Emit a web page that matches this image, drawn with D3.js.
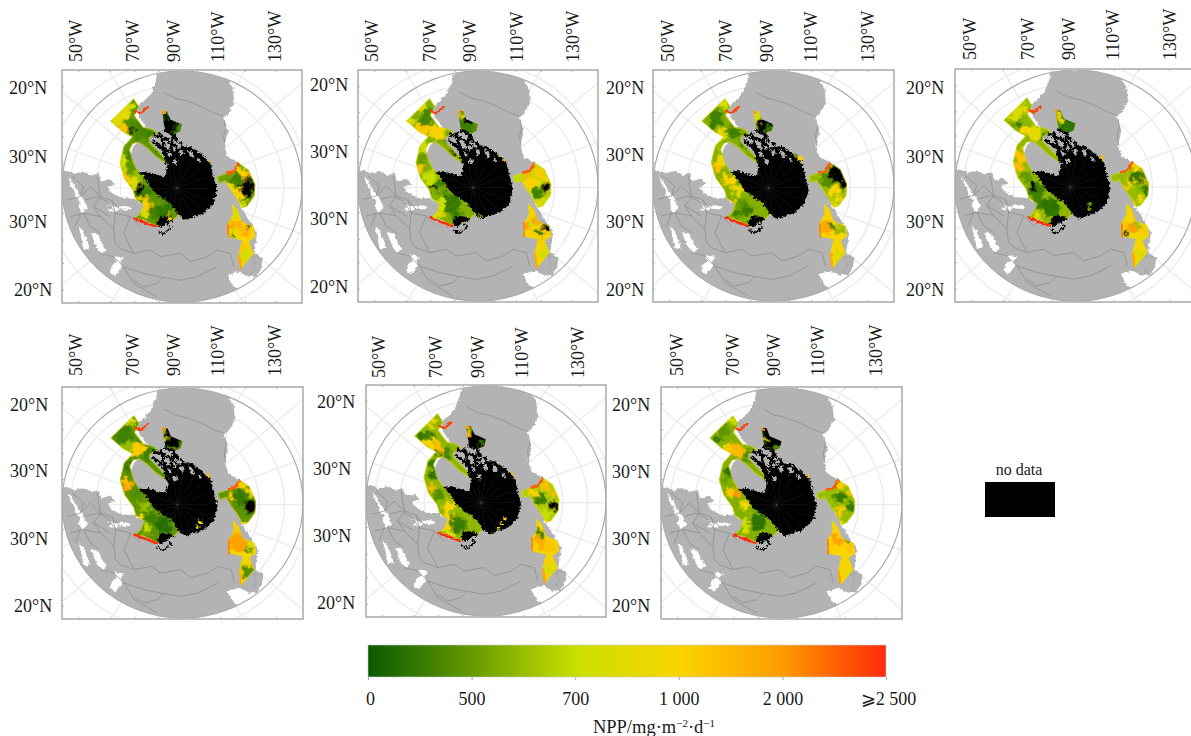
<!DOCTYPE html>
<html>
<head>
<meta charset="utf-8">
<script src="https://cdn.jsdelivr.net/npm/d3@7"></script>
<style>
  html, body { margin: 0; padding: 0; background: #fff; overflow: hidden; }
  text { font-family: "Liberation Serif", serif; fill: #1a1a1a; }
</style>
</head>
<body>
<div id="chart"></div>
<script>
// colour bar
const nppTicks = [0, 500, 700, 1000, 2000, 2500];
const nppTickLabels = ["0", "500", "700", "1 000", "2 000", "⩾2 500"];
const nppColors = ["#0a5a00", "#659a00", "#c9e000", "#fad400", "#ff9c00", "#ff2a0a"];

// axis labels
const topLabels = ["50°W", "70°W", "90°W", "110°W", "130°W"];
const leftLabels = ["20°N", "30°N", "30°N", "20°N"];

// map shapes, in map units
const landMain = [[470,225],[490,214],[590,214],[640,222],[680,240],[697,265],[702,310],[682,345],[668,355],[682,395],[672,440],[682,472],[715,490],[720,620],[770,700],[762,760],[785,775],[770,815],[745,830],[715,815],[680,825],[700,860],[735,870],[735,920],[170,920],[170,515],[200,512],[222,522],[250,515],[275,528],[295,520],[302,545],[330,538],[345,555],[322,562],[335,580],[365,595],[405,597],[430,620],[600,650],[560,500],[470,480],[475,430],[450,400],[415,350],[410,322],[430,305],[450,285],[465,250]];
const landCore = [[400,440],[440,400],[500,380],[660,470],[700,600],[620,700],[430,640],[405,570],[385,480]];
const landIsles = [[[755,770],[785,775],[782,800],[768,828],[752,825],[765,795]], [[378,508],[392,506],[396,522],[386,530],[376,522]]];
const waterHoles = [
  [[205,530],[215,545],[232,575],[250,600],[262,625],[245,640],[235,620],[240,605],[225,590],[222,570],[210,555]],
  [[318,612],[345,622],[372,618],[395,622],[385,630],[360,628],[345,635],[322,632],[335,622]],
  [[235,680],[248,690],[262,725],[268,745],[250,750],[245,720],[240,700]],
  [[272,698],[295,705],[302,725],[318,750],[305,760],[290,745],[280,720]],
  [[342,768],[372,772],[360,785],[365,800],[345,825],[330,815],[335,795],[350,785]],
  [[680,825],[715,815],[745,830],[735,860],[700,860]]
];
const borders = [
  [[490,278],[520,295],[560,305],[600,320],[640,340],[668,350]],
  [[360,745],[400,760],[450,750],[480,770],[540,760],[570,785],[620,770],[650,750],[690,760],[700,800]],
  [[370,800],[430,820],[480,830],[540,840],[590,830],[650,800]],
  [[255,600],[290,590],[320,605],[345,640],[390,650],[420,680]],
  [[250,640],[300,650],[340,690],[345,730],[360,745]],
  [[270,560],[300,590],[280,620],[300,650]],
  [[300,760],[340,770],[370,800],[400,850],[470,890]],
  [[210,650],[250,640],[270,680],[300,700]],
  [[400,840],[430,860],[470,850],[490,830]],
  [[200,600],[240,590],[270,560]],
  [[300,590],[330,600],[360,630]],
  [[240,640],[225,680]],
  [[280,620],[330,650]],
  [[345,640],[340,690]],
  [[390,650],[370,700],[400,760]],
  [[215,530],[250,560],[240,590]],
  [[290,530],[300,590]],
  [[335,600],[345,640]],
  [[672,360],[676,385],[670,410],[674,440]]
];
const seaRibbon = [[330,365],[400,297],[416,322],[402,348],[428,382],[458,390],[472,400],[447,415],[448,428],[475,455],[505,488],[495,490],[465,470],[440,445],[415,428],[398,432],[388,450],[400,490],[415,515],[470,560],[520,600],[540,640],[520,660],[470,680],[430,660],[402,655],[420,640],[430,615],[405,597],[398,572],[372,537],[358,490],[370,440],[395,412],[368,398]];
const seaBay = [[485,335],[500,335],[510,360],[545,375],[540,395],[520,405],[495,395],[490,370]];
const seaEast = [[650,530],[680,520],[700,515],[715,490],[745,510],[765,555],[762,590],[740,620],[725,625],[705,590],[690,570],[675,545],[655,550]];
const seaSouth = [[695,612],[712,630],[725,665],[760,680],[765,710],[745,725],[760,760],[722,805],[715,760],[725,720],[700,715],[685,710],[683,670],[698,645]];
const iceMain = [[505,478],[528,445],[570,440],[605,465],[630,490],[640,530],[650,570],[640,610],[610,640],[580,650],[555,660],[535,645],[525,628],[508,608],[480,590],[458,572],[430,530],[415,518],[440,515],[470,525],[495,530]];
const iceBay = [[468,672],[480,650],[512,652],[522,662],[500,668],[482,684]];
const iceMesh = [
  [[458,405],[500,420],[530,442]],
  [[468,432],[510,456],[525,470]],
  [[480,400],[490,440],[505,482]],
  [[520,408],[512,440],[520,470]],
  [[540,428],[552,448]],
  [[455,422],[490,452],[500,492]],
  [[490,392],[520,405],[532,430]],
  [[500,470],[515,500]]
];
const iceIsles = [
  [[535,452],[548,450],[552,464],[540,468]],
  [[562,450],[575,455],[582,472],[570,474]],
  [[520,478],[532,482],[528,496],[516,490]],
  [[590,472],[600,478],[604,490],[594,486]]
];
const iceHook = [[470,692],[490,702],[512,682],[500,672]];

// shelf-edge streaks: points, then NPP
const streakPoints = [
  [[402,655],[425,665],[468,680]],
  [[405,335],[420,342],[442,322]],
  [[681,520],[700,515],[714,492]],
  [[612,478],[628,490]],
  [[722,805],[716,765]],
  [[486,335],[494,342]],
  [[685,712],[683,672]]
];
const streakValues = [2500, 2400, 2300, 1600, 1800, 2000, 2100];

// graticule
const graticuleRadii = [95, 170, 245, 320, 395];
const graticuleAngles = d3.range(0, 360, 20);
const frameTicksX = [235, 330, 403, 477, 592, 660, 735, 827];
const frameTicksY = [262, 340, 412, 490, 640, 720, 790, 870];

// NPP of each sea area: ribbon, bay, east, south
const baseOne = [480, 380, 520, 1000];
const baseTwo = [560, 450, 680, 1050];
const baseThree = [560, 700, 600, 1000];
const baseFour = [580, 450, 600, 950];
const baseFive = [440, 400, 450, 950];
const baseSix = [580, 450, 650, 1050];
const baseSeven = [560, 400, 600, 1000];

// patches of each panel: x, y, radius, NPP (null = no data)
const patchesOne = [[345,365,14,800],[385,318,15,750],[370,345,16,850],[395,380,20,400],[370,390,14,1300],[395,390,7,null],[425,375,14,300],[420,400,18,350],[450,410,12,300],[380,440,16,500],[368,480,14,750],[392,470,12,300],[365,510,10,800],[385,545,14,1200],[410,530,14,600],[375,530,8,1500],[420,570,14,null],[400,550,12,800],[440,575,14,300],[470,580,12,400],[430,610,16,1100],[450,630,12,1300],[470,640,18,300],[490,635,18,200],[500,620,15,200],[430,640,10,800],[510,655,8,1500],[510,375,20,null],[495,345,9,null],[525,392,8,250],[470,440,10,250],[725,520,15,1000],[735,535,10,1500],[700,540,12,300],[690,565,12,900],[715,580,15,1000],[740,560,20,null],[745,585,10,null],[755,545,10,null],[730,610,10,750],[715,535,10,300],[705,640,8,700],[715,680,14,1600],[695,680,10,1800],[740,690,12,1100],[745,680,6,null],[700,700,10,700],[735,700,8,2000],[750,705,8,1200],[735,770,18,800],[725,740,8,1300],[695,705,5,null]];
const patchesTwo = [[372,322,16,800],[392,352,22,350],[347,367,10,800],[382,392,18,1200],[422,397,18,1000],[462,422,14,250],[472,447,12,null],[382,447,15,750],[367,512,14,1300],[377,482,12,500],[402,532,16,700],[412,562,8,null],[432,552,10,300],[442,582,14,500],[462,612,25,250],[432,612,14,700],[432,642,12,800],[482,652,14,250],[512,377,22,300],[497,347,8,1000],[517,357,10,null],[732,522,14,1200],[702,552,16,1000],[752,562,14,null],[722,582,14,300],[732,612,10,800],[692,532,8,1600],[752,542,8,1000],[717,662,14,1900],[702,672,10,700],[752,677,10,null],[732,702,12,300],[692,682,8,1800],[742,762,14,750],[732,732,10,1000]];
const patchesThree = [[372,352,20,300],[397,312,14,800],[362,377,12,250],[387,402,14,900],[427,397,16,300],[457,422,12,300],[477,447,10,null],[387,442,14,600],[377,502,16,1300],[387,482,14,900],[412,542,16,1000],[437,572,14,900],[447,612,14,500],[467,632,14,250],[437,642,10,250],[417,612,8,900],[522,372,26,null],[492,357,10,800],[532,387,8,250],[737,522,24,null],[757,552,14,null],[702,542,16,400],[727,572,14,1000],[737,602,12,900],[702,682,16,1800],[727,662,10,1000],[747,692,14,600],[722,682,8,300],[747,772,14,800]];
const patchesFour = [[382,334,16,800],[362,354,14,800],[372,379,14,300],[422,404,20,850],[457,419,12,350],[397,394,10,1000],[382,474,18,1300],[377,504,12,1400],[402,534,14,500],[427,574,22,300],[417,564,10,null],[432,614,16,300],[472,624,25,200],[432,654,10,800],[522,374,20,200],[492,344,8,1000],[497,364,8,900],[732,534,20,250],[752,544,6,1600],[722,504,10,1000],[757,574,14,250],[742,604,10,900],[707,554,10,1000],[722,654,14,1000],[712,684,14,1900],[732,674,10,600],[752,694,10,1200],[692,704,6,null],[742,764,14,800]];
const patchesFive = [[393,315,12,800],[373,355,20,300],[348,365,10,300],[413,400,18,1100],[378,395,14,600],[443,415,14,300],[383,450,14,250],[373,495,10,1400],[383,510,10,1800],[413,525,14,400],[433,570,14,600],[448,605,16,300],[488,625,20,150],[438,635,10,700],[418,605,10,900],[513,365,26,null],[491,340,6,1100],[493,365,6,700],[713,545,20,250],[748,570,16,null],[723,505,12,1100],[748,525,10,1000],[693,545,10,1200],[728,605,10,500],[713,675,24,1900],[703,635,10,1200],[748,675,12,800],[743,700,10,500],[743,765,16,400]];
const patchesSix = [[383,320,14,900],[353,365,14,200],[373,365,14,300],[378,390,14,1000],[403,400,10,1400],[428,415,14,350],[398,415,6,null],[388,450,14,250],[388,480,12,200],[378,520,10,1400],[403,540,14,400],[433,575,16,1000],[458,630,24,250],[428,610,14,1000],[428,640,12,1000],[438,660,10,800],[513,380,28,null],[490,355,7,1400],[533,385,6,300],[708,550,18,300],[723,510,12,1400],[748,540,10,1500],[748,575,12,null],[688,540,10,1000],[728,600,12,700],[708,680,16,1700],[738,670,14,1100],[708,655,10,300],[738,700,10,1300],[738,770,14,700]];
const patchesSeven = [[392,309,12,750],[372,344,14,450],[352,369,10,250],[392,399,16,1400],[417,404,16,1500],[447,419,14,400],[382,394,8,1000],[392,469,14,150],[377,484,10,500],[392,529,12,1200],[412,534,10,2000],[437,569,14,900],[472,614,20,200],[437,624,14,700],[442,644,10,800],[517,364,28,null],[492,344,8,null],[495,369,6,900],[527,399,8,400],[717,544,14,250],[722,504,12,1100],[752,534,10,1400],[752,569,12,250],[722,584,12,1100],[742,604,10,600],[717,674,14,1800],[702,664,8,1900],[747,664,12,300],[752,694,10,1300],[747,774,14,900]];

// open water inside the ice, same layout as the patches
const leadsOne = [[508,658,6,1300]];
const leadsTwo = [[552,650,6,500],[610,470,4,700]];
const leadsThree = [[625,478,8,1100],[612,470,6,500]];
const leadsFour = [[587,616,6,500],[587,630,6,500],[625,478,6,1400]];
const leadsFive = [[598,618,6,900],[590,632,6,800],[622,476,5,1300]];
const leadsSix = [[602,614,5,1100],[592,628,5,1000],[582,642,5,900],[620,475,4,1600]];
const leadsSeven = [[625,478,5,1300]];

const panelPatches = [patchesOne, patchesTwo, patchesThree, patchesFour, patchesFive, patchesSix, patchesSeven];
const panelBases = [baseOne, baseTwo, baseThree, baseFour, baseFive, baseSix, baseSeven];
const panelLeads = [leadsOne, leadsTwo, leadsThree, leadsFour, leadsFive, leadsSix, leadsSeven];

// page layout of the seven panels
const panelLayout = [
  { x: 62, y: 70, w: 240, h: 233, topX: [76, 133, 174, 218, 275], topY: 62, leftX: [9, 9, 9, 14], leftY: [88, 157, 222, 290] },
  { x: 358, y: 70, w: 240, h: 232, topX: [372, 430, 470, 517, 573], topY: 62, leftX: [310, 310, 310, 310], leftY: [85, 152, 219, 287] },
  { x: 653, y: 70, w: 241, h: 232, topX: [668, 726, 767, 811, 868], topY: 62, leftX: [606, 606, 606, 606], leftY: [88, 155, 222, 290] },
  { x: 955, y: 69, w: 241, h: 233, topX: [970, 1028, 1069, 1113, 1170], topY: 60, leftX: [906, 906, 906, 906], leftY: [88, 157, 222, 290] },
  { x: 62, y: 387, w: 241, h: 232, topX: [76, 133, 174, 218, 275], topY: 376, leftX: [10, 10, 10, 14], leftY: [405, 471, 539, 606] },
  { x: 366, y: 385, w: 240, h: 232, topX: [379, 436, 478, 522, 578], topY: 378, leftX: [317, 313, 313, 317], leftY: [402, 469, 536, 603] },
  { x: 661, y: 387, w: 241, h: 232, topX: [677, 733, 774, 818, 876], topY: 376, leftX: [612, 612, 612, 612], leftY: [405, 472, 539, 606] }
];

const width = 1191, height = 736;
const svg = d3.select("#chart").append("svg").attr("width", width).attr("height", height);
const defs = svg.append("defs");

const color = d3.scaleLinear().domain(nppTicks).range(nppColors);
const nppFill = v => v === null ? "#000" : color(v);
const patchGrow = 1.2;

// the coarse look of the raster comes from these filters
function addFilter(id, freq, scale, blur, seed, after) {
  const f = defs.append("filter").attr("id", id)
    .attr("x", "-10%").attr("y", "-10%").attr("width", "120%").attr("height", "120%");
  f.append("feGaussianBlur").attr("in", "SourceGraphic").attr("stdDeviation", blur).attr("result", "soft");
  f.append("feTurbulence").attr("type", "fractalNoise").attr("baseFrequency", freq)
    .attr("numOctaves", 3).attr("seed", seed).attr("result", "noise");
  f.append("feDisplacementMap").attr("in", "soft").attr("in2", "noise").attr("scale", scale)
    .attr("xChannelSelector", "R").attr("yChannelSelector", "G").attr("result", "moved");
  if (after) f.append("feGaussianBlur").attr("in", "moved").attr("stdDeviation", after);
}
addFilter("patchy", 0.15, 13, 0.8, 4, 0.45);
addFilter("jagged", 0.4, 5, 0.3, 7, 0);
addFilter("coast", 0.3, 3.5, 0.25, 2, 0);
defs.append("filter").attr("id", "soften").append("feGaussianBlur").attr("stdDeviation", 0.4);

panelLayout.forEach(function (p, i) {
  const x = d3.scaleLinear().domain([185, 905]).range([p.x, p.x + p.w]);
  const y = d3.scaleLinear().domain([212, 908]).range([p.y, p.y + p.h]);
  const poly = d3.line().x(d => x(d[0])).y(d => y(d[1])).curve(d3.curveLinearClosed);
  const open = d3.line().x(d => x(d[0])).y(d => y(d[1]));
  const cx = x(545), cy = y(560), rx = x(905) - x(545), ry = y(905) - y(560);
  const poleX = x(530), poleY = y(565);

  defs.append("clipPath").attr("id", "frame" + i).append("rect")
    .attr("x", p.x).attr("y", p.y).attr("width", p.w).attr("height", p.h);
  defs.append("clipPath").attr("id", "disc" + i).append("ellipse")
    .attr("cx", cx).attr("cy", cy).attr("rx", rx).attr("ry", ry);
  const seaClip = defs.append("clipPath").attr("id", "sea" + i);
  [seaRibbon, seaBay, seaEast, seaSouth].forEach(s => seaClip.append("path").attr("d", poly(s)));

  const frameGroup = svg.append("g").attr("clip-path", `url(#frame${i})`);
  const g = frameGroup.append("g").attr("filter", "url(#soften)");

  // graticule
  const grid = g.append("g").attr("fill", "none").attr("stroke", "#ececec").attr("stroke-width", 1.4);
  graticuleRadii.forEach(r => {
    grid.append("ellipse").attr("cx", poleX).attr("cy", poleY)
      .attr("rx", x(185 + r) - x(185)).attr("ry", y(212 + r * 0.96) - y(212));
  });
  graticuleAngles.forEach(a => {
    const t = a * Math.PI / 180;
    grid.append("line").attr("x1", poleX).attr("y1", poleY)
      .attr("x2", poleX + 220 * Math.cos(t)).attr("y2", poleY + 220 * Math.sin(t));
  });

  // land
  const land = g.append("g").attr("clip-path", `url(#disc${i})`);
  land.append("path").attr("d", poly(landCore)).attr("fill", "#b3b3b3");
  const landShape = land.append("g").attr("filter", "url(#coast)");
  landShape.append("path").attr("d", poly(landMain)).attr("fill", "#b3b3b3");
  landIsles.forEach(s => landShape.append("path").attr("d", poly(s)).attr("fill", "#b3b3b3").attr("stroke", "#8f8f8f").attr("stroke-width", 0.4));
  waterHoles.forEach(s => landShape.append("path").attr("d", poly(s)).attr("fill", "#fff"));
  borders.forEach(b => land.append("path").attr("d", open(b)).attr("fill", "none")
    .attr("stroke", "#8a8a8a").attr("stroke-width", 0.7));

  // sea colours
  const seaOuter = g.append("g").attr("clip-path", `url(#sea${i})`);
  const sea = seaOuter.append("g").attr("filter", "url(#patchy)");
  [seaRibbon, seaBay, seaEast, seaSouth].forEach((s, k) => {
    sea.append("path").attr("d", poly(s)).attr("fill", nppFill(panelBases[i][k]))
      .attr("stroke", nppFill(panelBases[i][k])).attr("stroke-width", 12);
  });
  sea.selectAll("ellipse").data(panelPatches[i]).enter().append("ellipse")
    .attr("cx", d => x(d[0])).attr("cy", d => y(d[1]))
    .attr("rx", d => (x(185 + d[2]) - x(185)) * patchGrow).attr("ry", d => (y(212 + d[2]) - y(212)) * patchGrow)
    .attr("fill", d => nppFill(d[3]));
  // yellow rim along the open ocean side
  [seaRibbon, seaEast, seaSouth].forEach(s => {
    seaOuter.append("path").attr("d", poly(s)).attr("fill", "none")
      .attr("stroke", color(850)).attr("stroke-width", 1.6).attr("stroke-opacity", 0.75);
  });
  streakPoints.forEach((s, k) => {
    g.append("path").attr("d", open(s)).attr("fill", "none").attr("filter", "url(#coast)")
      .attr("stroke", color(streakValues[k])).attr("stroke-width", 2.4).attr("stroke-linecap", "round");
  });

  // no data area
  const ice = g.append("g").attr("filter", "url(#jagged)");
  iceMesh.forEach(s => ice.append("path").attr("d", open(s)).attr("fill", "none").attr("stroke", "#000").attr("stroke-width", 2.6));
  ice.append("path").attr("d", poly(iceMain)).attr("fill", "#000");
  ice.append("path").attr("d", poly(iceBay)).attr("fill", "#000");
  ice.append("path").attr("d", open(iceHook)).attr("fill", "none").attr("stroke", "#000").attr("stroke-width", 1.4);
  iceIsles.forEach(s => ice.append("path").attr("d", poly(s)).attr("fill", "#b3b3b3"));
  g.append("g").attr("filter", "url(#jagged)").selectAll("ellipse").data(panelLeads[i]).enter().append("ellipse")
    .attr("cx", d => x(d[0])).attr("cy", d => y(d[1]))
    .attr("rx", d => x(185 + d[2]) - x(185)).attr("ry", d => y(212 + d[2]) - y(212))
    .attr("fill", d => nppFill(d[3]));

  // faint meridians showing through the black
  const faint = g.append("g").attr("stroke", "#fff").attr("stroke-opacity", 0.08).attr("stroke-width", 0.8);
  graticuleAngles.forEach(a => {
    const t = a * Math.PI / 180;
    faint.append("line").attr("x1", poleX).attr("y1", poleY)
      .attr("x2", poleX + 32 * Math.cos(t)).attr("y2", poleY + 32 * Math.sin(t));
  });

  // outer circle and frame
  g.append("ellipse").attr("cx", cx).attr("cy", cy).attr("rx", rx).attr("ry", ry)
    .attr("fill", "none").attr("stroke", "#ababab").attr("stroke-width", 1.2);
  svg.append("rect").attr("x", p.x).attr("y", p.y).attr("width", p.w).attr("height", p.h)
    .attr("fill", "none").attr("stroke", "#a9a9a9").attr("stroke-width", 1.5);
  frameTicksX.forEach(t => {
    frameGroup.append("line").attr("x1", x(t)).attr("x2", x(t)).attr("y1", p.y).attr("y2", p.y + 2).attr("stroke", "#b5b5b5");
    frameGroup.append("line").attr("x1", x(t)).attr("x2", x(t)).attr("y1", p.y + p.h).attr("y2", p.y + p.h - 2).attr("stroke", "#b5b5b5");
  });
  frameTicksY.forEach(t => {
    frameGroup.append("line").attr("x1", p.x).attr("x2", p.x + 2).attr("y1", y(t)).attr("y2", y(t)).attr("stroke", "#b5b5b5");
  });

  // labels
  topLabels.forEach((t, k) => {
    svg.append("text").text(t).attr("font-size", 18)
      .attr("transform", `translate(${p.topX[k] + 6},${p.topY}) rotate(-90)`);
  });
  leftLabels.forEach((t, k) => {
    svg.append("text").text(t).attr("font-size", 18)
      .attr("x", p.leftX[k]).attr("y", p.leftY[k] + 6);
  });
});

// colour bar
const barX = d3.scalePoint().domain(nppTicks).range([368, 886]);
const barTop = 645, barBottom = 677;
const gradient = defs.append("linearGradient").attr("id", "nppBar");
nppTicks.forEach((t, k) => {
  gradient.append("stop").attr("offset", k / (nppTicks.length - 1)).attr("stop-color", nppColors[k]);
});
svg.append("rect").attr("x", barX(0)).attr("y", barTop)
  .attr("width", barX(2500) - barX(0)).attr("height", barBottom - barTop)
  .attr("fill", "url(#nppBar)").attr("stroke", "#c8c8c8").attr("stroke-width", 0.6);

const barAxis = svg.append("g").attr("transform", `translate(0,${barBottom})`)
  .call(d3.axisBottom(barX).tickSize(3).tickPadding(12).tickFormat((d, k) => nppTickLabels[k]));
barAxis.select(".domain").remove();
barAxis.selectAll("line").attr("stroke", "#a8a8a8");
barAxis.selectAll("text").attr("font-size", 18).attr("font-family", "Liberation Serif").attr("fill", "#1a1a1a");
barAxis.selectAll("text").filter((d, k) => k === 0).attr("dx", 2);
barAxis.selectAll("text").filter((d, k) => k === nppTicks.length - 1).attr("dx", 2);

const barTitle = svg.append("text").attr("x", 654).attr("y", 733).attr("text-anchor", "middle").attr("font-size", 18.5);
barTitle.append("tspan").text("NPP/mg·m");
barTitle.append("tspan").text("−2").attr("font-size", 11).attr("dy", -6);
barTitle.append("tspan").text("·d").attr("dy", 6);
barTitle.append("tspan").text("−1").attr("font-size", 11).attr("dy", -6);

// no data key
svg.append("text").text("no data").attr("x", 1019).attr("y", 475).attr("text-anchor", "middle").attr("font-size", 16);
svg.append("rect").attr("x", 985).attr("y", 482).attr("width", 70).attr("height", 35).attr("fill", "#000");
</script>
</body>
</html>
